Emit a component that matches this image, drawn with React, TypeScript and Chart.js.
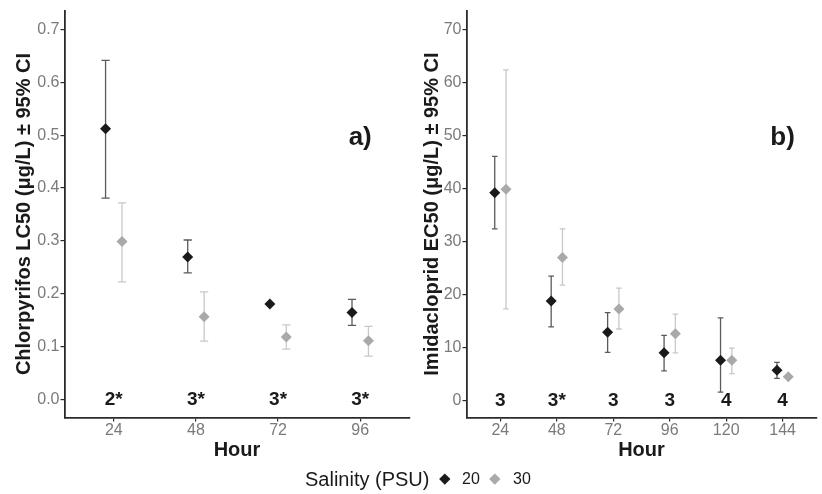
import React, { useEffect, useRef } from "react";
import { Chart, registerables } from "chart.js";
Chart.register(...registerables);

const FONT = "'Liberation Sans', Arial, Helvetica, sans-serif";

// ---- Panel a) Chlorpyrifos LC50 ----
const hoursA = [24, 48, 72, 96];
const chlor20 = [0.512, 0.27, 0.181, 0.165];
const chlor20Lo: (number | null)[] = [0.381, 0.24, null, 0.141];
const chlor20Hi: (number | null)[] = [0.641, 0.302, null, 0.19];
const chlor30 = [0.299, 0.157, 0.119, 0.112];
const chlor30Lo: (number | null)[] = [0.223, 0.111, 0.096, 0.083];
const chlor30Hi: (number | null)[] = [0.372, 0.204, 0.142, 0.139];
const nLabelsA = ["2*", "3*", "3*", "3*"];
const yTicksA = [0, 0.1, 0.2, 0.3, 0.4, 0.5, 0.6, 0.7];

// ---- Panel b) Imidacloprid EC50 ----
const hoursB = [24, 48, 72, 96, 120, 144];
const imid20 = [39.2, 18.8, 12.9, 9.0, 7.6, 5.7];
const imid20Lo: (number | null)[] = [32.4, 13.9, 9.1, 5.6, 1.6, 4.2];
const imid20Hi: (number | null)[] = [46.1, 23.5, 16.6, 12.3, 15.6, 7.2];
const imid30 = [39.9, 27.0, 17.3, 12.6, 7.6, 4.5];
const imid30Lo: (number | null)[] = [17.3, 21.8, 13.5, 9.0, 5.1, null];
const imid30Hi: (number | null)[] = [62.4, 32.4, 21.2, 16.3, 9.9, null];
const nLabelsB = ["3", "3*", "3", "3", "4", "4"];
const yTicksB = [0, 10, 20, 30, 40, 50, 60, 70];

const salinities = ["20", "30"];

const DODGE = 0.1;
const CAP = 0.05;
const COL20 = "#1a1a1a";
const COL30 = "#a9a9a9";
const BAR20 = "#5a5a5a";
const BAR30 = "#c8c8c8";
const AXIS = "#2b2b2b";
const TICK = "#7a7a7a";

type Panel = {
  hours: number[];
  v20: number[];
  lo20: (number | null)[];
  hi20: (number | null)[];
  v30: number[];
  lo30: (number | null)[];
  hi30: (number | null)[];
  nLabels: string[];
  yTicks: number[];
  yMin: number;
  yMax: number;
  fmt: (v: number) => string;
  yTitle: string;
  yWidth: number;
  titlePad: number;
  tag: string;
  tagX: number;
  tagY: number;
};

const panelA: Panel = {
  hours: hoursA,
  v20: chlor20, lo20: chlor20Lo, hi20: chlor20Hi,
  v30: chlor30, lo30: chlor30Lo, hi30: chlor30Hi,
  nLabels: nLabelsA,
  yTicks: yTicksA,
  yMin: -0.033,
  yMax: 0.735,
  fmt: (v) => v.toFixed(1),
  yTitle: "Chlorpyrifos LC50 (μg/L) ± 95% CI",
  yWidth: 64.5,
  titlePad: 12.5,
  tag: "a)",
  tagX: 4,
  tagY: 0.495,
};

const panelB: Panel = {
  hours: hoursB,
  v20: imid20, lo20: imid20Lo, hi20: imid20Hi,
  v30: imid30, lo30: imid30Lo, hi30: imid30Hi,
  nLabels: nLabelsB,
  yTicks: yTicksB,
  yMin: -3.2,
  yMax: 73.6,
  fmt: (v) => String(Math.round(v)),
  yTitle: "Imidacloprid EC50 (μg/L) ± 95% CI",
  yWidth: 51.5,
  titlePad: 5.3,
  tag: "b)",
  tagX: 6,
  tagY: 49.6,
};

function makeOverlay(p: Panel) {
  return {
    id: "overlay",
    beforeDatasetsDraw(chart: any) {
      const { ctx, scales } = chart;
      const x = scales.x;
      const y = scales.y;
      const groups = [
        { lo: p.lo20, hi: p.hi20, off: -DODGE, col: BAR20 },
        { lo: p.lo30, hi: p.hi30, off: DODGE, col: BAR30 },
      ];
      ctx.save();
      ctx.lineWidth = 1.3;
      groups.forEach((g) => {
        ctx.strokeStyle = g.col;
        g.lo.forEach((lo, i) => {
          const hi = g.hi[i];
          if (lo == null || hi == null) return;
          const cx = x.getPixelForValue(i + 1 + g.off);
          const xl = x.getPixelForValue(i + 1 + g.off - CAP);
          const xr = x.getPixelForValue(i + 1 + g.off + CAP);
          const yl = y.getPixelForValue(lo);
          const yh = y.getPixelForValue(hi);
          ctx.beginPath();
          ctx.moveTo(cx, yl);
          ctx.lineTo(cx, yh);
          ctx.moveTo(xl, yl);
          ctx.lineTo(xr, yl);
          ctx.moveTo(xl, yh);
          ctx.lineTo(xr, yh);
          ctx.stroke();
        });
      });
      ctx.restore();
    },
    afterDatasetsDraw(chart: any) {
      const { ctx, scales } = chart;
      const x = scales.x;
      const y = scales.y;
      ctx.save();
      ctx.fillStyle = "#1a1a1a";
      ctx.textAlign = "center";
      ctx.textBaseline = "middle";
      ctx.font = `bold 19px ${FONT}`;
      p.nLabels.forEach((t, i) => {
        ctx.fillText(t, x.getPixelForValue(i + 1), y.getPixelForValue(0));
      });
      ctx.font = `bold 26px ${FONT}`;
      ctx.fillText(p.tag, x.getPixelForValue(p.tagX), y.getPixelForValue(p.tagY));
      ctx.restore();
    },
  };
}

function makeChart(canvas: HTMLCanvasElement, p: Panel) {
  const n = p.hours.length;
  const gridCommon = {
    display: true,
    drawOnChartArea: false,
    drawTicks: true,
    color: AXIS,
    lineWidth: 1.2,
  };
  return new Chart(canvas, {
    type: "scatter",
    data: {
      datasets: [
        {
          label: salinities[0],
          data: p.v20.map((v, i) => ({ x: i + 1 - DODGE, y: v })),
          pointStyle: "rectRot",
          pointRadius: 5.5,
          pointHoverRadius: 5.5,
          backgroundColor: COL20,
          borderColor: COL20,
          borderWidth: 0,
        },
        {
          label: salinities[1],
          data: p.v30.map((v, i) => ({ x: i + 1 + DODGE, y: v })),
          pointStyle: "rectRot",
          pointRadius: 5.5,
          pointHoverRadius: 5.5,
          backgroundColor: COL30,
          borderColor: COL30,
          borderWidth: 0,
        },
      ],
    },
    options: {
      animation: false,
      responsive: false,
      events: [],
      layout: { padding: { top: 10, right: 1, bottom: 30, left: 0 } },
      plugins: { legend: { display: false }, tooltip: { enabled: false } },
      scales: {
        x: {
          type: "linear",
          min: 0.4,
          max: n + 0.6,
          afterBuildTicks: (s: any) => {
            s.ticks = p.hours.map((_, i) => ({ value: i + 1 }));
          },
          afterFit: (s: any) => {
            s.height = 46.5;
          },
          ticks: {
            callback: (v: any) => {
              const i = Math.round(Number(v)) - 1;
              return p.hours[i] != null ? String(p.hours[i]) : "";
            },
            font: { size: 16, family: FONT },
            color: TICK,
            padding: -1,
            maxRotation: 0,
            autoSkip: false,
          },
          grid: { ...gridCommon, tickLength: 4 },
          border: { display: true, color: AXIS, width: 1.8 },
          title: {
            display: true,
            text: "Hour",
            font: { size: 20, weight: "bold", family: FONT },
            color: "#1a1a1a",
            padding: { top: 0, bottom: 2 },
          },
        },
        y: {
          type: "linear",
          min: p.yMin,
          max: p.yMax,
          afterBuildTicks: (s: any) => {
            s.ticks = p.yTicks.map((v) => ({ value: v }));
          },
          afterFit: (s: any) => {
            s.width = p.yWidth;
          },
          ticks: {
            callback: (v: any) => p.fmt(Number(v)),
            font: { size: 16, family: FONT },
            color: TICK,
            padding: 1,
          },
          grid: { ...gridCommon, tickLength: 4 },
          border: { display: true, color: AXIS, width: 1.8 },
          title: {
            display: true,
            text: p.yTitle,
            font: { size: 20, weight: "bold", family: FONT },
            color: "#1a1a1a",
            padding: { top: p.titlePad, bottom: 0 },
          },
        },
      },
    } as any,
    plugins: [makeOverlay(p)],
  });
}

const diamond = (color: string, left: number) => (
  <div
    style={{
      position: "absolute",
      left: left - 3.8,
      top: 479 - 3.8,
      width: 7.6,
      height: 7.6,
      background: color,
      transform: "rotate(45deg)",
    }}
  />
);

const textStyle = (left: number, size: number): React.CSSProperties => ({
  position: "absolute",
  left,
  top: 479,
  transform: "translateY(-50%)",
  fontFamily: FONT,
  fontSize: size,
  lineHeight: 1,
  color: "#1a1a1a",
  whiteSpace: "nowrap",
});

export default function App() {
  const refA = useRef<HTMLCanvasElement>(null);
  const refB = useRef<HTMLCanvasElement>(null);
  useEffect(() => {
    const a = makeChart(refA.current!, panelA);
    const b = makeChart(refB.current!, panelB);
    return () => {
      a.destroy();
      b.destroy();
    };
  }, []);
  return (
    <div
      style={{
        position: "absolute",
        left: 0,
        top: 0,
        width: 822,
        height: 494,
        background: "#ffffff",
        overflow: "hidden",
      }}
    >
      <canvas
        ref={refA}
        width={415}
        height={494}
        style={{ position: "absolute", left: 0, top: 0, width: 415, height: 494 }}
      />
      <canvas
        ref={refB}
        width={407}
        height={494}
        style={{ position: "absolute", left: 415, top: 0, width: 407, height: 494 }}
      />
      <span style={textStyle(305, 20)}>Salinity (PSU)</span>
      {diamond(COL20, 445)}
      <span style={textStyle(462, 16)}>{salinities[0]}</span>
      {diamond(COL30, 495)}
      <span style={textStyle(513, 16)}>{salinities[1]}</span>
    </div>
  );
}
